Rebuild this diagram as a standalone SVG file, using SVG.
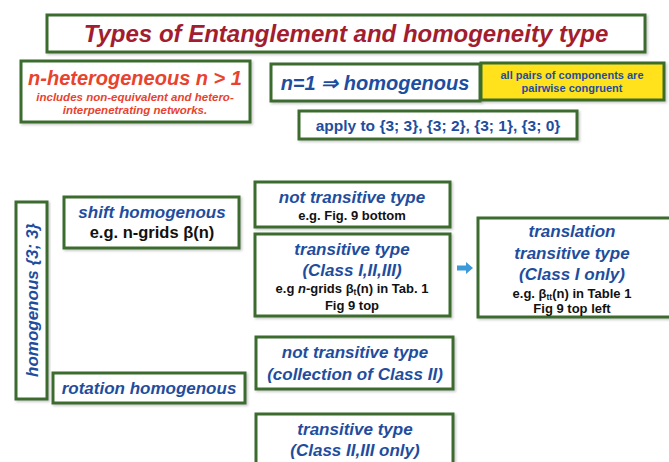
<svg xmlns="http://www.w3.org/2000/svg" width="669" height="462" viewBox="0 0 669 462">
<defs>
<filter id="sh" x="-5%" y="-5%" width="115%" height="120%">
<feDropShadow dx="1.5" dy="1.5" stdDeviation="1" flood-color="#888" flood-opacity="0.45"/>
</filter>
</defs>
<style>
.box{fill:#fff;stroke:#3b6c2e;stroke-width:3;filter:url(#sh)}
.yel{fill:#ffe21c;stroke:#3b6c2e;stroke-width:3;filter:url(#sh)}
text{font-family:"Liberation Sans",Arial,sans-serif;font-weight:bold;text-anchor:middle}
.bi{fill:#1f4d9e;font-style:italic;font-size:17px}
.bk{fill:#111;font-size:13px}
.red{fill:#e8432d;font-style:italic}
.sub{font-size:8.5px}
</style>
<rect width="669" height="462" fill="#fff"/>

<g id="title">
<rect class="box" x="47" y="15" width="598" height="37"/>
<text x="346" y="42" font-size="24" font-style="italic" fill="#a11d2f">Types of Entanglement  and homogeneity type</text>
</g>

<g id="heterogeneous">
<rect class="box" x="21" y="61" width="229" height="61"/>
<text class="red" x="135" y="85" font-size="20">n-heterogeneous n &gt; 1</text>
<text class="red" x="135" y="101" font-size="11.5">includes non-equivalent and hetero-</text>
<text class="red" x="135" y="114" font-size="11.5">interpenetrating networks.</text>
</g>

<g id="homogenous">
<rect class="box" x="271" y="64" width="209" height="37"/>
<text class="bi" x="375" y="90" style="font-size:20px">n=1 ⇒ homogenous</text>
</g>

<g id="congruent">
<rect class="yel" x="481" y="63" width="183" height="37"/>
<text x="572" y="79" font-size="11" fill="#1f4d9e">all pairs of components are</text>
<text x="572" y="92" font-size="11" fill="#1f4d9e">pairwise congruent</text>
</g>

<g id="apply">
<rect class="box" x="299" y="111" width="278" height="28"/>
<text x="438" y="131" font-size="15.5" fill="#1f4d9e">apply to {3; 3}, {3; 2}, {3; 1}, {3; 0}</text>
</g>

<g id="homog33">
<rect class="box" x="16" y="202" width="31" height="197"/>
<text class="bi" transform="translate(38,300) rotate(-90)" x="0" y="0">homogenous {3; 3}</text>
</g>

<g id="shift">
<rect class="box" x="64" y="197" width="175" height="51"/>
<text class="bi" x="152" y="218">shift homogenous</text>
<text class="bk" x="152" y="238" style="font-size:16.5px">e.g. n-grids β(n)</text>
</g>

<g id="rotation">
<rect class="box" x="53" y="373" width="192" height="30"/>
<text class="bi" x="149" y="394">rotation homogenous</text>
</g>

<g id="nottrans1">
<rect class="box" x="255" y="182" width="195" height="45"/>
<text class="bi" x="352" y="203">not transitive type</text>
<text class="bk" x="352" y="220">e.g.  Fig. 9 bottom</text>
</g>

<g id="trans1">
<rect class="box" x="255" y="234" width="195" height="82"/>
<text class="bi" x="352" y="255">transitive type</text>
<text class="bi" x="352" y="276">(Class I,II,III)</text>
<text class="bk" x="352" y="293">e.g <tspan font-style="italic">n</tspan>-grids β<tspan class="sub" dy="2">t</tspan><tspan dy="-2">(n) in Tab. 1</tspan></text>
<text class="bk" x="352" y="310">Fig 9 top</text>
</g>

<g id="translation">
<rect class="box" x="478" y="218" width="193" height="99"/>
<text class="bi" x="572" y="237">translation</text>
<text class="bi" x="572" y="259">transitive type</text>
<text class="bi" x="572" y="280">(Class I only)</text>
<text class="bk" x="572" y="298">e.g.  β<tspan class="sub" dy="2">tt</tspan><tspan dy="-2">(n) in Table 1</tspan></text>
<text class="bk" x="572" y="313">Fig 9 top left</text>
</g>

<g id="nottrans2">
<rect class="box" x="256" y="337" width="197" height="52"/>
<text class="bi" x="355" y="358">not transitive type</text>
<text class="bi" x="355" y="380">(collection of Class II)</text>
</g>

<g id="trans2">
<rect class="box" x="256" y="414" width="197" height="60"/>
<text class="bi" x="355" y="435">transitive type</text>
<text class="bi" x="355" y="456">(Class II,III only)</text>
</g>

<g id="connectors">
<polygon points="457,265.5 466,265.5 466,262 473,268 466,274 466,270.5 457,270.5" fill="#3c9ad8"/>
</g>
</svg>
